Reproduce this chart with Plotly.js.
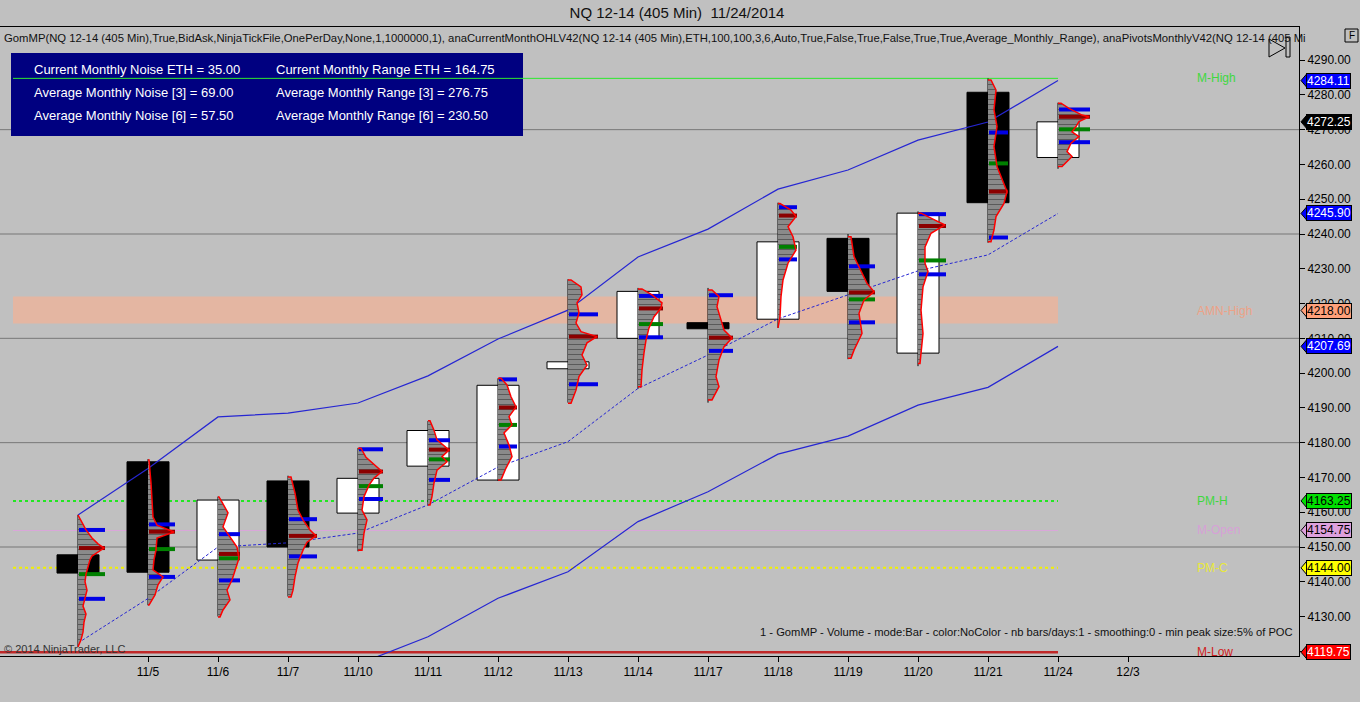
<!DOCTYPE html>
<html><head><meta charset="utf-8">
<script src="https://cdn.plot.ly/plotly-3.0.1.min.js"></script>
<style>html,body{margin:0;padding:0;background:#c0c0c0;overflow:hidden}#chart{width:1360px;height:702px}</style>
</head><body><div id="chart"></div>
<script>
// ---------------- DATA ----------------
const dates = ['11/4','11/5','11/6','11/7','11/10','11/11','11/12','11/13','11/14','11/17','11/18','11/19','11/20','11/21','11/24'];
const tickLabels = ['11/5','11/6','11/7','11/10','11/11','11/12','11/13','11/14','11/17','11/18','11/19','11/20','11/21','11/24','12/3'];

const open  = [4147.75,4174.50,4146.25,4169.00,4159.75,4173.25,4169.25,4201.25,4210.00,4214.50,4215.50,4238.75,4205.75,4280.75,4262.00];
const high  = [4159.25,4175.25,4164.50,4170.50,4178.50,4186.25,4198.50,4227.00,4224.50,4224.50,4249.00,4240.00,4246.50,4284.75,4277.75];
const low   = [4121.25,4133.25,4130.00,4135.75,4148.75,4162.00,4169.00,4191.50,4195.50,4191.50,4213.00,4204.00,4202.00,4237.50,4258.75];
const close = [4142.50,4142.75,4163.50,4150.00,4169.75,4183.50,4196.50,4203.25,4223.50,4212.75,4237.75,4223.50,4246.00,4249.00,4272.25];

const upperBand = [4159.2,4172.6,4187.4,4188.5,4191.4,4199.2,4209.8,4218.1,4233.4,4241.4,4252.9,4258.4,4267.0,4272.2,4284.11];
const midBand   = [4122.4,4135.2,4150.0,4151.2,4154.0,4162.1,4173.0,4180.3,4195.6,4205.2,4215.6,4222.5,4229.4,4234.0,4245.90];
const lowerBand = [4086.0,4098.0,4112.5,4113.9,4116.3,4124.2,4135.25,4142.9,4157.3,4165.9,4176.7,4181.9,4190.8,4195.9,4207.69];

// volume profile markers per bar
const vah  = [4154.9,4156.5,4153.7,4158.0,4178.1,4180.7,4198.2,4216.9,4222.2,4222.4,4247.7,4230.7,4245.7,4269.2,4275.8];
const val  = [4135.1,4141.4,4140.4,4147.3,4163.8,4169.3,4178.9,4196.8,4210.3,4206.4,4232.7,4214.6,4228.4,4239.0,4266.4];
const poc  = [4149.7,4154.4,4148.0,4153.2,4171.7,4178.0,4190.1,4210.5,4218.6,4210.2,4245.3,4223.2,4242.3,4252.2,4273.7];
const vwap = [4142.2,4149.4,4146.75,null,4167.5,4175.2,4185.1,null,4214.1,null,4236.3,4221.2,4232.4,4260.3,4270.1];

// volume profiles: [price, relative volume]
const profiles = [
 [[4159.2,0],[4157.2,4],[4154.9,8],[4152.6,14],[4150.9,20],[4149.7,26],[4148.6,20],[4147.4,14],[4146.3,12],[4144.5,10],[4142.2,8],[4140.0,7],[4137.6,9],[4135.3,7],[4133.0,5],[4130.7,8],[4128.4,6],[4125.5,5],[4123.3,3],[4121.3,0]],
 [[4175.0,1],[4168.4,3],[4163.5,4],[4158.6,5],[4156.3,9],[4154.3,26],[4152.6,9],[4149.1,8],[4146.3,6],[4143.4,5],[4141.4,15],[4139.1,10],[4136.2,7],[4133.3,1]],
 [[4164.4,1],[4162.9,4],[4159.8,10],[4155.8,5],[4152.9,12],[4150.0,19],[4146.8,21],[4143.4,17],[4140.5,14],[4137.6,9],[4134.8,12],[4131.9,5],[4129.9,2]],
 [[4170.1,3],[4165.5,7],[4160.6,10],[4157.8,15],[4154.9,22],[4153.2,28],[4151.4,19],[4149.1,15],[4145.4,10],[4141.4,7],[4137.6,5],[4135.6,3]],
 [[4178.4,3],[4175.8,8],[4174.2,14],[4171.7,24],[4169.8,16],[4167.8,11],[4164.5,6],[4160.6,4],[4157.8,9],[4154.0,6],[4149.1,4]],
 [[4186.3,2],[4183.6,6],[4180.8,9],[4177.9,21],[4176.0,14],[4174.5,19],[4172.1,9],[4168.4,6],[4164.5,4],[4162.1,2]],
 [[4198.5,3],[4196.6,9],[4193.2,13],[4190.3,18],[4187.5,11],[4185.1,14],[4182.8,6],[4179.3,11],[4176.0,14],[4172.7,8],[4169.3,3]],
 [[4226.8,3],[4224.8,13],[4222.5,14],[4220.2,9],[4217.3,11],[4214.4,8],[4211.9,13],[4210.5,29],[4208.7,19],[4205.2,14],[4202.3,19],[4199.0,11],[4195.1,8],[4191.3,3]],
 [[4224.2,4],[4222.5,14],[4220.2,24],[4218.7,23],[4216.2,16],[4213.0,11],[4209.5,8],[4205.8,6],[4200.9,4],[4196.1,3]],
 [[4223.9,4],[4222.0,11],[4219.1,9],[4215.3,13],[4212.4,16],[4210.1,24],[4207.6,16],[4203.8,11],[4199.0,8],[4196.1,11],[4192.3,4]],
 [[4248.8,2],[4246.9,13],[4245.0,18],[4242.1,10],[4239.2,15],[4235.4,18],[4231.6,10],[4226.8,5],[4222.0,3],[4216.2,2],[4213.0,0]],
 [[4239.2,3],[4233.5,6],[4229.6,13],[4225.8,19],[4223.4,26],[4221.0,16],[4217.2,11],[4211.4,14],[4206.6,6],[4204.3,3]],
 [[4246.0,3],[4244.0,17],[4242.6,27],[4240.2,13],[4236.3,7],[4231.6,7],[4229.2,10],[4224.8,5],[4218.1,3],[4211.4,5],[4202.8,2]],
 [[4284.3,3],[4281.4,8],[4275.7,6],[4270.9,9],[4265.1,6],[4259.4,9],[4256.5,13],[4252.2,19],[4248.8,16],[4245.0,8],[4241.2,6],[4237.8,3]],
 [[4277.6,3],[4276.1,11],[4274.2,24],[4273.7,31],[4272.3,21],[4270.9,18],[4269.4,14],[4268.0,21],[4266.1,13],[4263.7,9],[4262.3,14],[4259.4,4]]
];

// monthly levels
const levelNames  = ['M-High','PM-H','M-Open','PM-C','M-Low'];
const levelValues = [4284.75,4163.25,4154.75,4144.00,4119.75];
const amnHighName = 'AMN-High';
const amnHigh = 4218.00;
const amnZone = [4214.3, 4222.0];
const gridLevels = [4150,4180,4210,4240,4270];

const infoRows = [
 ['Current Monthly Noise ETH = 35.00','Current Monthly Range ETH = 164.75'],
 ['Average Monthly Noise [3] = 69.00','Average Monthly Range [3] = 276.75'],
 ['Average Monthly Noise [6] = 57.50','Average Monthly Range [6] = 230.50']
];
const indicatorText = 'GomMP(NQ 12-14 (405 Min),True,BidAsk,NinjaTickFile,OnePerDay,None,1,1000000,1), anaCurrentMonthOHLV42(NQ 12-14 (405 Min),ETH,100,100,3,6,Auto,True,False,True,False,True,True,Average_Monthly_Range), anaPivotsMonthlyV42(NQ 12-14 (405 Mi';
const profileText = '1 - GomMP - Volume - mode:Bar - color:NoColor - nb bars/days:1 - smoothing:0 - min peak size:5% of POC';
const titleText = 'NQ 12-14 (405 Min)\u00A0 11/24/2014';

// ---------------- LAYOUT GEOMETRY ----------------
const W=1360,H=702,ML=0,MR=61,MT=27,MB=46;
const PW=W-ML-MR, PH=H-MT-MB;
const SP=70;                       // px between bars
const X0PX=78;                     // px of first bar
const xRange=[-X0PX/SP,(PW-X0PX)/SP];
const yRange=[4118.66,4299.52];
const VOL=1/SP;                    // relative volume -> x units
const px2x = px => (px-ML)/PW;
const py2y = py => (H-MB-py)/PH;
const v2y = v => (v-yRange[0])/(yRange[1]-yRange[0]);
const idx = dates.map((d,i)=>i);
const last = idx[idx.length-1];
const levelStart = (13-X0PX)/SP;

// ---------------- TRACES ----------------
const traces=[];
traces.push({type:'bar',x:idx,
  y:open.map((o,i)=>Math.abs(close[i]-o)),
  base:open.map((o,i)=>Math.min(o,close[i])),
  width:0.6,
  marker:{color:open.map((o,i)=>close[i]>=o?'#ffffff':'#000000'),line:{color:'#000',width:1}},
  hoverinfo:'skip'});

// wicks
traces.push({type:'scatter',mode:'lines',
  x:idx.flatMap(i=>[i,i,null]), y:idx.flatMap(i=>[low[i],high[i],null]),
  line:{color:'#000',width:1},hoverinfo:'skip'});

// bands
traces.push({type:'scatter',mode:'lines',x:idx,y:upperBand,line:{color:'#2626d2',width:1.2},hoverinfo:'skip'});
traces.push({type:'scatter',mode:'lines',x:idx,y:lowerBand,line:{color:'#2626d2',width:1.2},hoverinfo:'skip'});
traces.push({type:'scatter',mode:'lines',x:idx,y:midBand,line:{color:'#2626d2',width:1,dash:'3px,2px'},hoverinfo:'skip'});

// profile fills
const pfx=[],pfy=[];
profiles.forEach((p,i)=>{
  pfx.push(i); pfy.push(p[0][0]);
  p.forEach(q=>{pfx.push(i+q[1]*VOL); pfy.push(q[0]);});
  pfx.push(i); pfy.push(p[p.length-1][0]);
  pfx.push(null); pfy.push(null);
});
traces.push({type:'scatter',mode:'lines',x:pfx,y:pfy,fill:'toself',
  fillcolor:'#888888',
  fillpattern:{shape:'-',bgcolor:'#8a8a8a',fgcolor:'#4a4a4a',size:5,solidity:0.15},
  line:{width:0,color:'rgba(0,0,0,0)'},hoverinfo:'skip'});

// marker bars
function barSeg(vals){
  const x=[],y=[];
  vals.forEach((v,i)=>{
    if(v===null) return;
    const m=Math.max(...profiles[i].map(q=>q[1]))+1;
    x.push(i+1/SP,i+m*VOL,null); y.push(v,v,null);
  });
  return {x,y};
}
const vaSeg=barSeg(vah), vbSeg=barSeg(val), pSeg=barSeg(poc), gSeg=barSeg(vwap);
traces.push({type:'scatter',mode:'lines',x:vaSeg.x.concat(vbSeg.x),y:vaSeg.y.concat(vbSeg.y),line:{color:'#0000e6',width:4},hoverinfo:'skip'});
traces.push({type:'scatter',mode:'lines',x:pSeg.x,y:pSeg.y,line:{color:'#8b0000',width:4},hoverinfo:'skip'});
traces.push({type:'scatter',mode:'lines',x:gSeg.x,y:gSeg.y,line:{color:'#008000',width:4},hoverinfo:'skip'});

// profile outlines
traces.push({type:'scatter',mode:'lines',x:pfx,y:pfy,line:{color:'#ff0000',width:1.5},hoverinfo:'skip'});

// ---------------- SHAPES ----------------
const shapes=[];
gridLevels.forEach(g=>shapes.push({type:'line',layer:'below',xref:'paper',yref:'y',x0:0,x1:1,y0:g,y1:g,line:{color:'#777777',width:1}}));
shapes.push({type:'rect',layer:'below',xref:'x',yref:'y',x0:levelStart,x1:last,y0:amnZone[0],y1:amnZone[1],fillcolor:'#e4b6a2',line:{width:0}});
shapes.push({type:'rect',layer:'below',xref:'paper',yref:'paper',x0:px2x(11),x1:px2x(523),y0:py2y(136),y1:py2y(53),fillcolor:'#000080',line:{width:0}});
const levelStyle = {
  'M-High':{color:'#2ee82e',width:1,dash:'solid'},
  'PM-H':{color:'#22e622',width:2,dash:'dot'},
  'M-Open':{color:'#d9a6d9',width:1,dash:'solid'},
  'PM-C':{color:'#f0f000',width:2,dash:'dot'},
  'M-Low':{color:'#c02828',width:2.5,dash:'solid'}
};
levelNames.forEach((n,k)=>{
  shapes.push({type:'line',layer:'below',xref:'x',yref:'y',x0:(n==='M-Low'?xRange[0]:levelStart),x1:last,y0:levelValues[k],y1:levelValues[k],line:levelStyle[n]});
});

// price tags
const tags=[
 {v:upperBand[last],bg:'#0000ff',fg:'#fff'},
 {v:close[last],bg:'#000000',fg:'#fff'},
 {v:midBand[last],bg:'#0000ff',fg:'#fff'},
 {v:amnHigh,bg:'#ffa07a',fg:'#000'},
 {v:lowerBand[last],bg:'#0000ff',fg:'#fff'},
 {v:levelValues[1],bg:'#00e000',fg:'#000'},
 {v:levelValues[2],bg:'#dda0dd',fg:'#000'},
 {v:levelValues[3],bg:'#ffff00',fg:'#000'},
 {v:levelValues[4],bg:'#ff0000',fg:'#fff'}
];
const annotations=[];
tags.forEach(t=>{
  const yc=v2y(t.v), dy=7/PH;
  shapes.push({type:'path',xref:'paper',yref:'paper',
    path:`M ${1+2/PW},${yc} L ${1+8/PW},${yc+dy} L ${1+8/PW},${yc-dy} Z`,
    fillcolor:t.bg,line:{color:'#000',width:1}});
  annotations.push({xref:'paper',yref:'paper',x:1+7/PW,y:yc,xanchor:'left',yanchor:'middle',
    text:t.v.toFixed(2),showarrow:false,bgcolor:t.bg,bordercolor:'#000',borderwidth:1,borderpad:0,
    font:{size:12,color:t.fg}});
});

// play icon and F box
shapes.push({type:'path',xref:'paper',yref:'paper',
  path:`M ${px2x(1269)},${py2y(39)} L ${px2x(1285)},${py2y(48)} L ${px2x(1269)},${py2y(57)} Z`,
  line:{color:'#000',width:1},fillcolor:'rgba(0,0,0,0)'});
shapes.push({type:'rect',xref:'paper',yref:'paper',x0:px2x(1286),x1:px2x(1290),y0:py2y(57),y1:py2y(37),line:{color:'#000',width:1},fillcolor:'rgba(0,0,0,0)'});
shapes.push({type:'rect',xref:'paper',yref:'paper',x0:px2x(1345),x1:px2x(1358),y0:py2y(42),y1:py2y(29),line:{color:'#000',width:1},fillcolor:'rgba(0,0,0,0)'});
annotations.push({xref:'paper',yref:'paper',x:px2x(1351.5),y:py2y(35.5),text:'F',showarrow:false,xanchor:'center',yanchor:'middle',font:{size:10,color:'#000'}});

// info box text
const rowY=[69,92,116];
infoRows.forEach((r,k)=>{
  annotations.push({xref:'paper',yref:'paper',x:px2x(32),y:py2y(rowY[k]),xanchor:'left',yanchor:'middle',text:r[0],showarrow:false,font:{size:13,color:'#fff'}});
  annotations.push({xref:'paper',yref:'paper',x:px2x(274),y:py2y(rowY[k]),xanchor:'left',yanchor:'middle',text:r[1],showarrow:false,font:{size:13,color:'#fff'}});
});
annotations.push({xref:'paper',yref:'paper',x:px2x(2),y:py2y(38),xanchor:'left',yanchor:'middle',text:indicatorText,showarrow:false,font:{size:11.3,color:'#111'}});
annotations.push({xref:'paper',yref:'paper',x:px2x(1295),y:py2y(632),xanchor:'right',yanchor:'middle',text:profileText,showarrow:false,font:{size:11.2,color:'#111'}});
annotations.push({xref:'paper',yref:'paper',x:px2x(2),y:py2y(649),xanchor:'left',yanchor:'middle',text:'\u00A9 2014 NinjaTrader, LLC',showarrow:false,font:{size:11,color:'#333'}});

// level labels
const labelColor={'M-High':'#3ed83e','PM-H':'#3ed83e','M-Open':'#d7a0d7','PM-C':'#e8e83a','M-Low':'#d02020'};
const labelX=(1195-X0PX)/SP;
levelNames.forEach((n,k)=>annotations.push({xref:'x',yref:'y',x:labelX,y:levelValues[k],xanchor:'left',yanchor:'middle',text:n,showarrow:false,font:{size:12,color:labelColor[n]}}));
annotations.push({xref:'x',yref:'y',x:labelX,y:amnHigh,xanchor:'left',yanchor:'middle',text:amnHighName,showarrow:false,font:{size:12,color:'#eda287'}});

const layout={
  width:W,height:H,margin:{l:ML,r:MR,t:MT,b:MB,pad:0},
  paper_bgcolor:'#c0c0c0',plot_bgcolor:'#c0c0c0',
  showlegend:false,hovermode:false,
  font:{family:'Liberation Sans, Arial, sans-serif',size:12,color:'#000'},
  title:{text:titleText,font:{size:15,color:'#111'},xref:'container',yref:'container',x:677/W,y:1-13/H,xanchor:'center',yanchor:'middle'},
  xaxis:{range:xRange,tickmode:'array',tickvals:tickLabels.map((t,k)=>k+1),ticktext:tickLabels,
    ticks:'outside',ticklen:5,tickcolor:'#000',showgrid:false,zeroline:false,
    showline:true,linecolor:'#000',linewidth:1,mirror:true,tickfont:{size:12,color:'#000'},fixedrange:true},
  yaxis:{side:'right',range:yRange,tick0:4130,dtick:10,tickformat:'.2f',
    ticks:'outside',ticklen:5,tickcolor:'#000',showgrid:false,zeroline:false,
    showline:true,linecolor:'#000',linewidth:1,mirror:true,tickfont:{size:12,color:'#000'},fixedrange:true},
  shapes,annotations
};
Plotly.newPlot('chart',traces,layout,{staticPlot:true,displayModeBar:false});
</script></body></html>
